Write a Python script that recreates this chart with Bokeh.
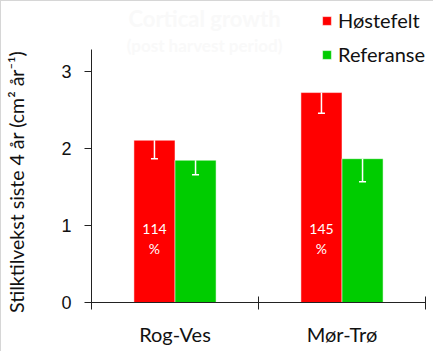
from bokeh.plotting import figure
from bokeh.models import (ColumnDataSource, FixedTicker, Whisker, TeeHead, Legend,
                          LegendItem, Label, Range1d)
from bokeh.core.properties import value
from bokeh.embed import file_html
from bokeh.resources import INLINE

categories = ["Rog-Ves", "Mør-Trø"]
series = ["Høstefelt", "Referanse"]
hostefelt = [2.11, 2.73]
hostefelt_low = [1.87, 2.46]
referanse = [1.85, 1.87]
referanse_low = [1.66, 1.57]
percent = ["114\n%", "145\n%"]
colors = ["#ff0000", "#00cc00"]
y_ticks = [0, 1, 2, 3]
y_axis_top = 3.29
y_label = "Stilktilvekst siste 4 år  (cm² år⁻¹)"
title_lines = ["Cortical growth", "(post harvest period)"]

FONT = "Lato"

# frame reaches nearly the top of the canvas so the legend is not clipped;
# the y axis line itself stops at y_axis_top
p = figure(width=433, height=351, output_backend="svg", toolbar_location=None,
           x_range=Range1d(0, 2), y_range=Range1d(0, y_axis_top * 296 / 253),
           min_border_left=90, min_border_right=9, min_border_top=5,
           min_border_bottom=50,
           styles={"border-top": "1px solid #d6d6d6", "border-left": "1px solid #d6d6d6",
                   "box-sizing": "border-box"})
p.outline_line_color = None
p.xgrid.visible = False
p.ygrid.visible = False

xc = [i + 0.5 for i in range(len(categories))]
off = 0.123
w = 0.246
src_h = ColumnDataSource(dict(x=[v - off for v in xc], top=hostefelt, low=hostefelt_low, lab=percent))
src_r = ColumnDataSource(dict(x=[v + off for v in xc], top=referanse, low=referanse_low))

rh = p.vbar(x="x", top="top", width=w, source=src_h, fill_color=colors[0],
            line_color="white", line_alpha=0.5, line_width=1)
rr = p.vbar(x="x", top="top", width=w, source=src_r, fill_color=colors[1],
            line_color="white", line_alpha=0.5, line_width=1)

for src in (src_h, src_r):
    wk = Whisker(source=src, base="x", upper="top", lower="low", dimension="height",
                 line_color="white", line_width=1.5, level="overlay",
                 upper_head=None,
                 lower_head=TeeHead(size=7, line_color="white", line_width=1.5))
    p.add_layout(wk)

p.text(x="x", y=0.83, text="lab", source=src_h, text_color="white",
       text_font=value(FONT), text_font_size="14px", text_align="center",
       text_baseline="middle", text_line_height=1.2)

# axes
p.yaxis.ticker = FixedTicker(ticks=y_ticks)
p.yaxis.bounds = (0, y_axis_top)
p.yaxis.major_tick_in = 0
p.yaxis.major_tick_out = 7
p.yaxis.minor_tick_line_color = None
p.yaxis.axis_line_color = "#222222"
p.yaxis.major_tick_line_color = "#222222"
p.yaxis.major_label_text_font = "Liberation Sans"
p.yaxis.major_label_text_font_size = "18px"
p.yaxis.major_label_text_color = "#111111"
p.yaxis.major_label_standoff = 13
# trailing no-break spaces shift the centred label down towards the axis' middle
p.yaxis.axis_label = y_label + "\u00a0" * 10
p.yaxis.axis_label_text_font = FONT
p.yaxis.axis_label_text_font_style = "normal"
p.yaxis.axis_label_text_font_size = "19.5px"
p.yaxis.axis_label_text_color = "#111111"
p.yaxis.axis_label_standoff = 30

p.xaxis.ticker = FixedTicker(ticks=xc, minor_ticks=[0, 1, 2])
p.xaxis.major_label_overrides = {xc[i]: categories[i] for i in range(len(categories))}
p.xaxis.major_tick_line_color = None
p.xaxis.minor_tick_in = 6
p.xaxis.minor_tick_out = 7
p.xaxis.minor_tick_line_color = "#222222"
p.xaxis.axis_line_color = "#222222"
p.xaxis.major_label_text_font = FONT
p.xaxis.major_label_text_font_size = "20px"
p.xaxis.major_label_text_color = "#111111"
p.xaxis.major_label_standoff = 12

legend = Legend(items=[LegendItem(label=series[0], renderers=[rh]),
                       LegendItem(label=series[1], renderers=[rr])],
                location=(230, 236), orientation="vertical",
                glyph_width=11, glyph_height=11, label_height=20, spacing=10,
                padding=0, margin=0, border_line_color=None,
                background_fill_alpha=0, label_text_font=FONT,
                label_text_font_size="20px", label_standoff=6,
                label_text_color="#111111")
p.add_layout(legend, "center")

# screen offsets here are relative to the frame's bottom-left corner
t1 = Label(x=113, y=284, x_units="screen", y_units="screen", text=title_lines[0],
           text_font=FONT, text_font_size="22px", text_font_style="bold",
           text_color="#f9f9f9", text_align="center", text_baseline="middle")
t2 = Label(x=113, y=257, x_units="screen", y_units="screen", text=title_lines[1],
           text_font=FONT, text_font_size="17px", text_font_style="bold",
           text_color="#f9f9f9", text_align="center", text_baseline="middle")
p.add_layout(t1)
p.add_layout(t2)

open("out.html", "w").write(file_html(p, INLINE))
